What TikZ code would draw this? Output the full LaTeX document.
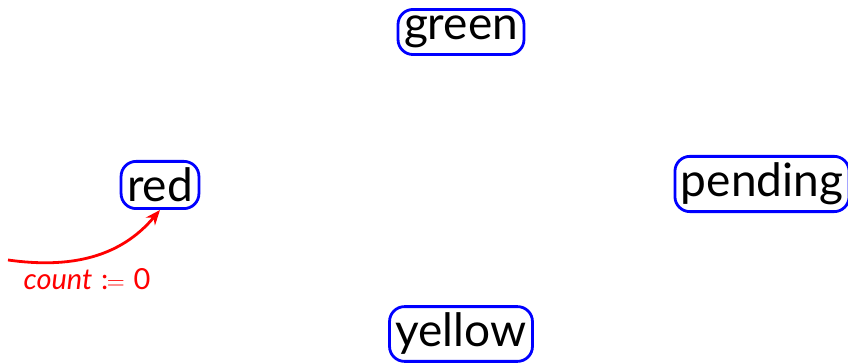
\documentclass[tikz,border=0pt]{standalone}
\usepackage{fontspec}
\setmainfont{Lato}
\usetikzlibrary{arrows.meta}
\begin{document}
\begin{tikzpicture}[x=1pt,y=1pt,
  state/.style={draw=blue, line width=2.8pt, rounded corners=15pt, inner xsep=6pt, inner ysep=6.5pt, font=\fontsize{46}{50}\selectfont, text=black},
  initarrow/.style={draw=red, line width=2.8pt, -{Stealth[length=15pt,width=12pt]}}]
\useasboundingbox (0,0) rectangle (848,363);
\node[state] (green) at (461,331) {green};
\node[state] (red) at (160,178) {red};
\node[state] (pending) at (762,179) {pending};
\node[state] (yellow) at (461,29) {yellow};
\coordinate (start) at (8,103);
\draw[initarrow] (start) to[out=-8,in=-130] (red.south);
\node[text=red, font=\fontsize{29}{32}\selectfont] (lbl) at (87,84) {\textit{count}\hspace{0.3em}:\hspace{-0.05em}$=$\hspace{0.3em}0};
\end{tikzpicture}
\end{document}
